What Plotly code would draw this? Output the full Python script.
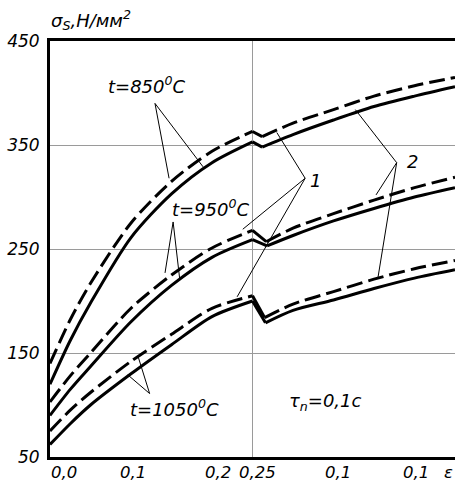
import plotly.graph_objects as go

# ---------------- data ----------------
eps_part1 = [0.0, 0.025, 0.05, 0.1, 0.15, 0.2, 0.25]
eps_part2 = [0.3, 0.35, 0.4, 0.45, 0.5]

# t = 850 C
s850_dash_p1 = [140, 182, 217, 275, 315, 344, 363]
s850_dash_dip = (0.262, 358)
s850_dash_p2 = [371, 384, 397, 407, 415]
s850_solid_p1 = [120, 162, 198, 261, 303, 333, 353]
s850_solid_dip = (0.262, 348)
s850_solid_p2 = [360, 374, 387, 397, 406]

# t = 950 C
s950_dash_p1 = [103, 128, 150, 193, 225, 251, 268]
s950_dash_dip = (0.267, 257)
s950_dash_p2 = [270, 284, 297, 309, 319]
s950_solid_p1 = [90, 115, 137, 180, 215, 242, 259]
s950_solid_dip = (0.268, 253)
s950_solid_p2 = [263, 277, 289, 300, 309]

# t = 1050 C
s1050_dash_p1 = [75, 95, 112, 142, 168, 193, 205]
s1050_dash_dip = (0.265, 184)
s1050_dash_p2 = [197, 209, 221, 231, 239]
s1050_solid_p1 = [62, 82, 100, 130, 158, 185, 200]
s1050_solid_dip = (0.266, 179)
s1050_solid_p2 = [191, 201, 212, 222, 230]

y_tick_vals = [50, 150, 250, 350, 450]
y_tick_text = ["50", "150", "250", "350", "450"]
x_label_pos = [0.017, 0.102, 0.207, 0.256, 0.356, 0.452]
x_label_text = ["0,0", "0,1", "0,2", "0,25", "0,1", "0,1"]

# leader lines: (apex, [ends]) in data units
leaders_850 = ((0.1296, 390), [(0.147, 318), (0.189, 329)])
leaders_950 = ((0.152, 276), [(0.142, 227), (0.160, 222)])
leaders_1050 = ((0.123, 111), [(0.096, 129), (0.109, 146)])
leaders_1 = ((0.315, 318), [(0.280, 362), (0.238, 269), (0.231, 204)])
leaders_2 = ((0.428, 333), [(0.377, 384), (0.4025, 302), (0.405, 223)])

FONT = "DejaVu Sans"

fig = go.Figure()


def add_curve(p1, dip, p2, dashed):
    dash = "16px,6px" if dashed else "solid"
    line = dict(color="black", width=3, dash=dash, shape="spline", smoothing=0.8)
    fig.add_trace(go.Scatter(x=eps_part1, y=p1, mode="lines", line=line,
                             hoverinfo="skip", showlegend=False))
    fig.add_trace(go.Scatter(x=[eps_part1[-1], dip[0]], y=[p1[-1], dip[1]], mode="lines",
                             line=dict(color="black", width=3), hoverinfo="skip", showlegend=False))
    fig.add_trace(go.Scatter(x=[dip[0]] + eps_part2, y=[dip[1]] + p2, mode="lines", line=line,
                             hoverinfo="skip", showlegend=False))


add_curve(s850_dash_p1, s850_dash_dip, s850_dash_p2, True)
add_curve(s850_solid_p1, s850_solid_dip, s850_solid_p2, False)
add_curve(s950_dash_p1, s950_dash_dip, s950_dash_p2, True)
add_curve(s950_solid_p1, s950_solid_dip, s950_solid_p2, False)
add_curve(s1050_dash_p1, s1050_dash_dip, s1050_dash_p2, True)
add_curve(s1050_solid_p1, s1050_solid_dip, s1050_solid_p2, False)

# leader lines
for apex, ends in [leaders_850, leaders_950, leaders_1050, leaders_1, leaders_2]:
    xs, ys = [], []
    for e in ends:
        xs += [apex[0], e[0], None]
        ys += [apex[1], e[1], None]
    fig.add_trace(go.Scatter(x=xs, y=ys, mode="lines", line=dict(color="black", width=1),
                             hoverinfo="skip", showlegend=False))

# vertical grid line at 0.25
fig.add_shape(type="line", x0=0.25, x1=0.25, y0=0, y1=1, xref="x", yref="paper",
              line=dict(color="#9a9a9a", width=1), layer="below")

tfont = dict(family=FONT, size=17, color="black", style="italic")


def label(text, x, y, xref="x", yref="y", xanchor="center", yanchor="middle", size=17):
    f = dict(tfont)
    f["size"] = size
    fig.add_annotation(text=text, x=x, y=y, xref=xref, yref=yref, showarrow=False,
                       font=f, xanchor=xanchor, yanchor=yanchor)


label("t=850<sup>0</sup>C", 0.12, 408, size=18)
label("t=950<sup>0</sup>C", 0.199, 289, size=18)
label("t=1050<sup>0</sup>C", 0.154, 97, size=18)
label("τ<sub>n</sub>=0,1c", 0.34, 103, size=18)
label("1", 0.328, 316, size=18)
label("2", 0.447, 334, size=18)
for xv, txt in zip(x_label_pos, x_label_text):
    label(txt, xv, -0.0645, yref="paper", yanchor="bottom", size=16.5)
label("ε", 0.492, -0.0645, yref="paper", yanchor="bottom", size=16.5)
label("σ<sub>S</sub>,Н/мм<sup>2</sup>", -0.002, 1.05, xref="paper", yref="paper", xanchor="left",
      size=18)

fig.update_layout(
    width=455, height=484,
    margin=dict(l=50, r=0, t=41, b=27),
    paper_bgcolor="white", plot_bgcolor="white",
    font=dict(family=FONT, size=17, color="black"),
    xaxis=dict(range=[0, 0.5], showticklabels=False, showgrid=False, automargin=False,
               zeroline=False, showline=True, linecolor="black", linewidth=3, mirror=True,
               ticks=""),
    yaxis=dict(range=[50, 450], tickvals=y_tick_vals, ticktext=y_tick_text, showgrid=True,
               gridcolor="#9a9a9a", gridwidth=1, zeroline=False, showline=True, automargin=False,
               linecolor="black", linewidth=3, mirror=False, ticks="", tickfont=tfont,
               ticklabelstandoff=4),
)

fig.write_html("out.html", config={"displayModeBar": False},
               post_script="document.body.style.margin='0';document.body.style.overflow='hidden';")
